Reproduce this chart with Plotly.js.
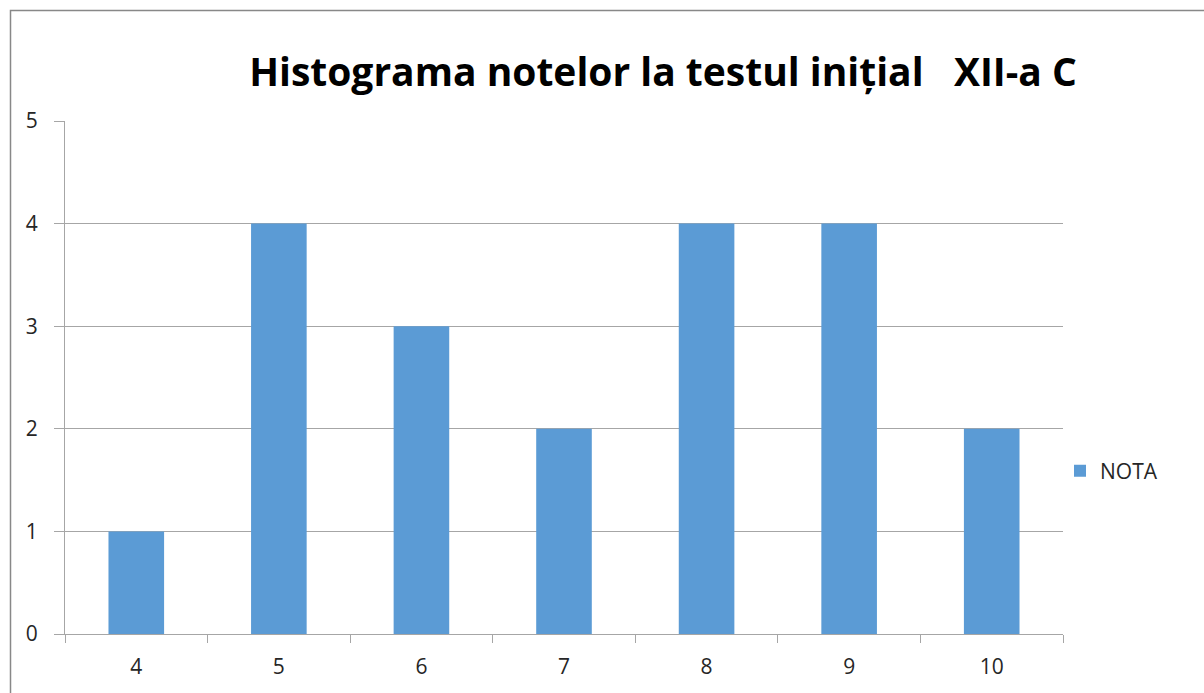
<!DOCTYPE html>
<html>
<head>
<meta charset="utf-8">
<script src="https://cdn.plot.ly/plotly-3.0.1.min.js"></script>
<style>html,body{margin:0;padding:0;background:#fff;}#chart{width:1204px;height:693px;}</style>
</head>
<body>
<div id="chart"></div>
<script>
const categories = ["4", "5", "6", "7", "8", "9", "10"];
const nota = [1, 4, 3, 2, 4, 4, 2];
const yTicks = [0, 1, 2, 3, 4, 5];
const seriesName = "NOTA";
const chartTitle = "Histograma notelor la testul inițial &nbsp; XII-a C";

const L = 65, R = 141, T = 121, B = 59, W = 1204 - L - R, H = 693 - T - B;
const px = x => (x - L) / W;
const py = y => (693 - B - y) / H;

Plotly.newPlot('chart', [{
  type: 'bar',
  x: categories,
  y: nota,
  name: seriesName,
  marker: {color: '#5B9BD5'},
  showlegend: true
}], {
  width: 1204, height: 693,
  margin: {l: L, r: R, t: T, b: B},
  paper_bgcolor: '#fff', plot_bgcolor: '#fff',
  bargap: 0.61,
  font: {family: 'Open Sans, sans-serif', color: '#262626'},
  title: {
    text: '<b>' + chartTitle + '</b>',
    font: {family: 'Open Sans, sans-serif', size: 39, color: '#000'},
    xref: 'container', x: 663 / 1204, xanchor: 'center',
    yref: 'container', y: 1 - 72 / 693, yanchor: 'middle'
  },
  xaxis: {
    type: 'category',
    showgrid: false,
    showline: true, linecolor: '#A6A6A6', linewidth: 1,
    ticks: 'outside', ticklen: 8, tickcolor: '#A6A6A6',
    tickson: 'boundaries',
    ticklabelstandoff: 14,
    tickfont: {size: 21, color: '#262626'},
    zeroline: false
  },
  yaxis: {
    range: [0, 5],
    tickvals: yTicks,
    showgrid: true, gridcolor: '#A6A6A6', gridwidth: 1,
    showline: true, linecolor: '#A6A6A6', linewidth: 1,
    ticks: 'outside', ticklen: 10, tickcolor: '#A6A6A6',
    ticklabelstandoff: 12,
    tickfont: {size: 21, color: '#262626'},
    zeroline: false
  },
  legend: {
    x: px(1060), xanchor: 'left', y: py(471), yanchor: 'middle',
    font: {size: 21, color: '#262626'},
    bgcolor: 'rgba(0,0,0,0)'
  },
  shapes: [{
    type: 'rect', xref: 'paper', yref: 'paper',
    x0: px(10.5), x1: px(1230), y0: py(10.5), y1: py(720),
    line: {color: '#888', width: 1.5}, fillcolor: 'rgba(0,0,0,0)', layer: 'below'
  }]
}, {displayModeBar: false, staticPlot: true});
</script>
</body>
</html>
